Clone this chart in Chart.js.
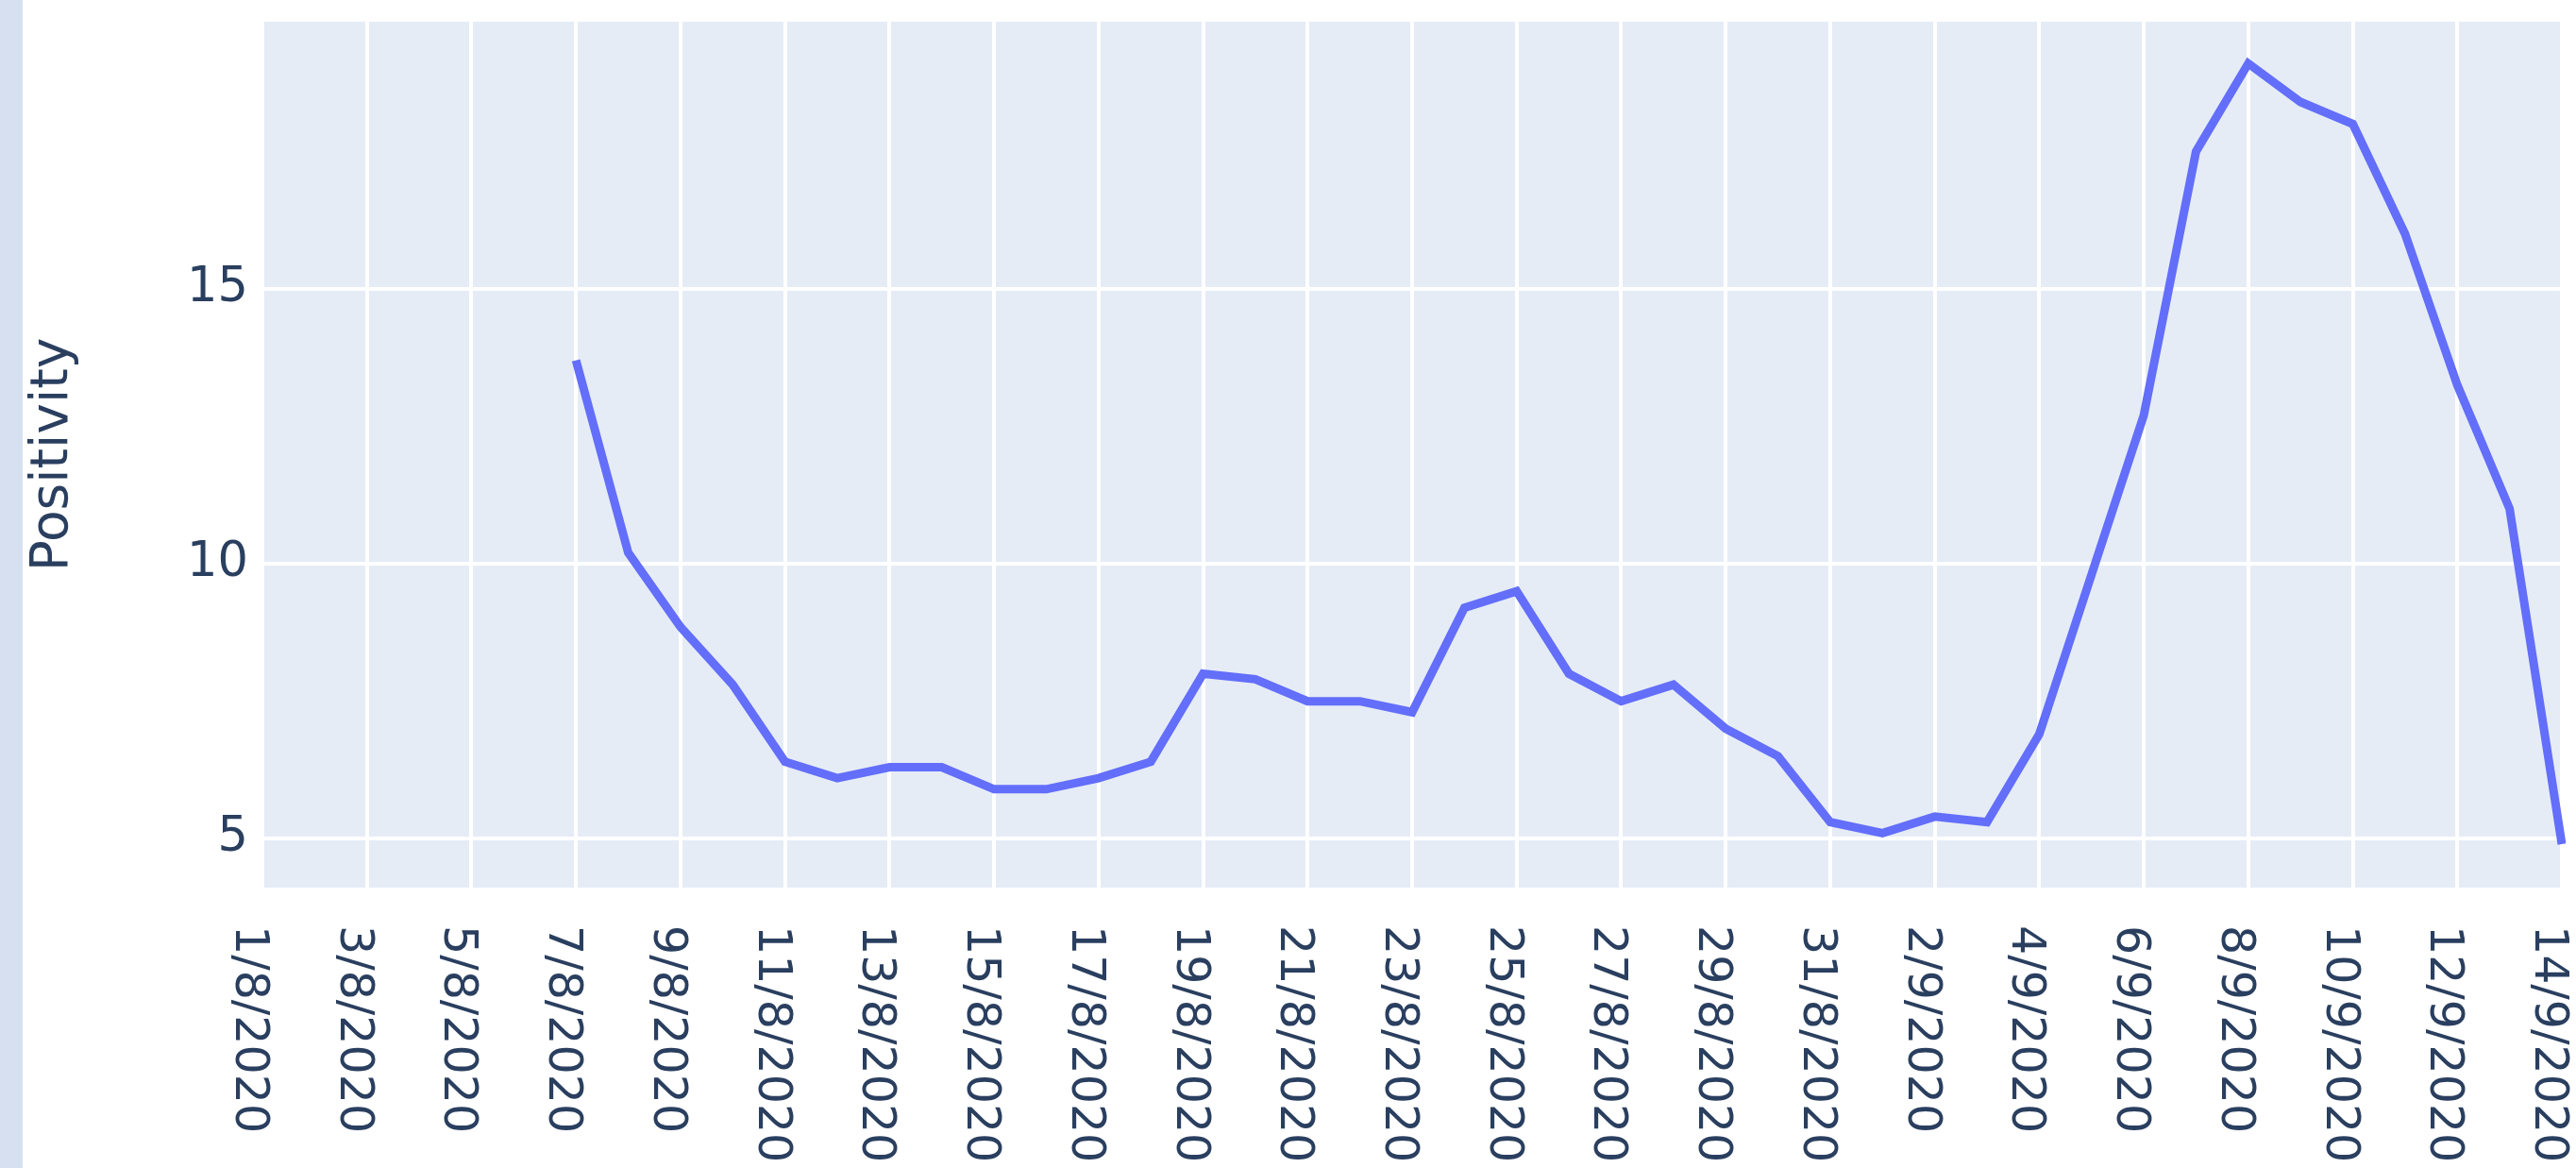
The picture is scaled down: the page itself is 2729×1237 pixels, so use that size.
<!DOCTYPE html>
<html>
<head>
<meta charset="utf-8">
<script src="https://cdn.jsdelivr.net/npm/chart.js@4.4.1/dist/chart.umd.min.js"></script>
<style>
  html, body { margin: 0; padding: 0; background: #ffffff; }
  #wrap { position: relative; width: 2729px; height: 1237px; }
  canvas { display: block; }
</style>
</head>
<body>
<div id="wrap"><canvas id="c" width="2729" height="1237"></canvas></div>
<script>
const dates = [
  "1/8/2020","2/8/2020","3/8/2020","4/8/2020","5/8/2020","6/8/2020","7/8/2020","8/8/2020",
  "9/8/2020","10/8/2020","11/8/2020","12/8/2020","13/8/2020","14/8/2020","15/8/2020","16/8/2020",
  "17/8/2020","18/8/2020","19/8/2020","20/8/2020","21/8/2020","22/8/2020","23/8/2020","24/8/2020",
  "25/8/2020","26/8/2020","27/8/2020","28/8/2020","29/8/2020","30/8/2020","31/8/2020",
  "1/9/2020","2/9/2020","3/9/2020","4/9/2020","5/9/2020","6/9/2020","7/9/2020","8/9/2020",
  "9/9/2020","10/9/2020","11/9/2020","12/9/2020","13/9/2020","14/9/2020"
];
const positivity = [
  null, null, null, null, null, null, 13.7, 10.2,
  8.85, 7.8, 6.4, 6.1, 6.3, 6.3, 5.9, 5.9,
  6.1, 6.4, 8.0, 7.9, 7.5, 7.5, 7.3, 9.2,
  9.5, 8.0, 7.5, 7.8, 7.0, 6.5, 5.3,
  5.1, 5.4, 5.3, 6.9, 9.8, 12.7, 17.5, 19.1,
  18.4, 18.0, 16.0, 13.25, 11.0, 4.9
];
const xTickLabels = dates.filter((d, i) => i % 2 === 0);
const yTicks = [5, 10, 15];
const yTitle = "Positivity";

const FONT = "'DejaVu Sans', Verdana, sans-serif";
const TEXT = "#2a3f5f";

const bgPlugin = {
  id: 'bg',
  beforeDraw(chart) {
    const {ctx, chartArea: a} = chart;
    ctx.save();
    ctx.fillStyle = '#ffffff';
    ctx.fillRect(0, 0, chart.width, chart.height);
    ctx.fillStyle = '#d6e0f1';
    ctx.fillRect(0, 0, 24, chart.height);
    ctx.fillStyle = '#E5ECF6';
    ctx.fillRect(a.left, a.top, a.right - a.left, a.bottom - a.top);
    ctx.restore();
  }
};

const xLabelPlugin = {
  id: 'xlabels',
  afterDraw(chart) {
    const {ctx, chartArea: a} = chart;
    const xs = chart.scales.x;
    ctx.save();
    ctx.font = "49px " + FONT;
    ctx.fillStyle = TEXT;
    ctx.textAlign = 'left';
    ctx.textBaseline = 'alphabetic';
    dates.forEach((d, i) => {
      if (!xTickLabels.includes(d)) return;
      const x = xs.getPixelForValue(i);
      ctx.save();
      ctx.translate(x - 28, a.bottom + 40);
      ctx.rotate(Math.PI / 2);
      ctx.fillText(d, 0, 0);
      ctx.restore();
    });
    ctx.restore();
  }
};

new Chart(document.getElementById('c'), {
  type: 'line',
  data: {
    labels: dates,
    datasets: [{
      data: positivity,
      borderColor: '#636efa',
      backgroundColor: '#636efa',
      borderWidth: 9,
      pointRadius: 0,
      tension: 0,
      fill: false
    }]
  },
  options: {
    responsive: false,
    devicePixelRatio: 1,
    animation: false,
    events: [],
    layout: { padding: { top: 23, right: 15, left: 0, bottom: 0 } },
    plugins: { legend: { display: false }, tooltip: { enabled: false } },
    scales: {
      x: {
        type: 'category',
        offset: false,
        border: { display: false },
        grid: {
          drawTicks: false,
          lineWidth: 4,
          color: (c) => (c.index % 2 === 0 ? '#ffffff' : 'rgba(0,0,0,0)')
        },
        ticks: { display: false, autoSkip: false },
        afterFit: (s) => { s.height = 297; s.paddingLeft = 0; s.paddingRight = 0; }
      },
      y: {
        min: 4.11,
        max: 19.86,
        border: { display: false },
        grid: { drawTicks: false, lineWidth: 4, color: '#ffffff' },
        afterBuildTicks: (s) => { s.ticks = yTicks.map(v => ({ value: v })); },
        ticks: {
          padding: 15,
          color: TEXT,
          font: { family: FONT, size: 51 }
        },
        title: {
          display: true,
          text: yTitle,
          color: TEXT,
          font: { family: FONT, size: 55 },
          padding: { top: 24, bottom: 0 }
        },
        afterFit: (s) => { s.width = 278; s.paddingTop = 0; s.paddingBottom = 0; }
      }
    }
  },
  plugins: [bgPlugin, xLabelPlugin]
});
</script>
</body>
</html>
